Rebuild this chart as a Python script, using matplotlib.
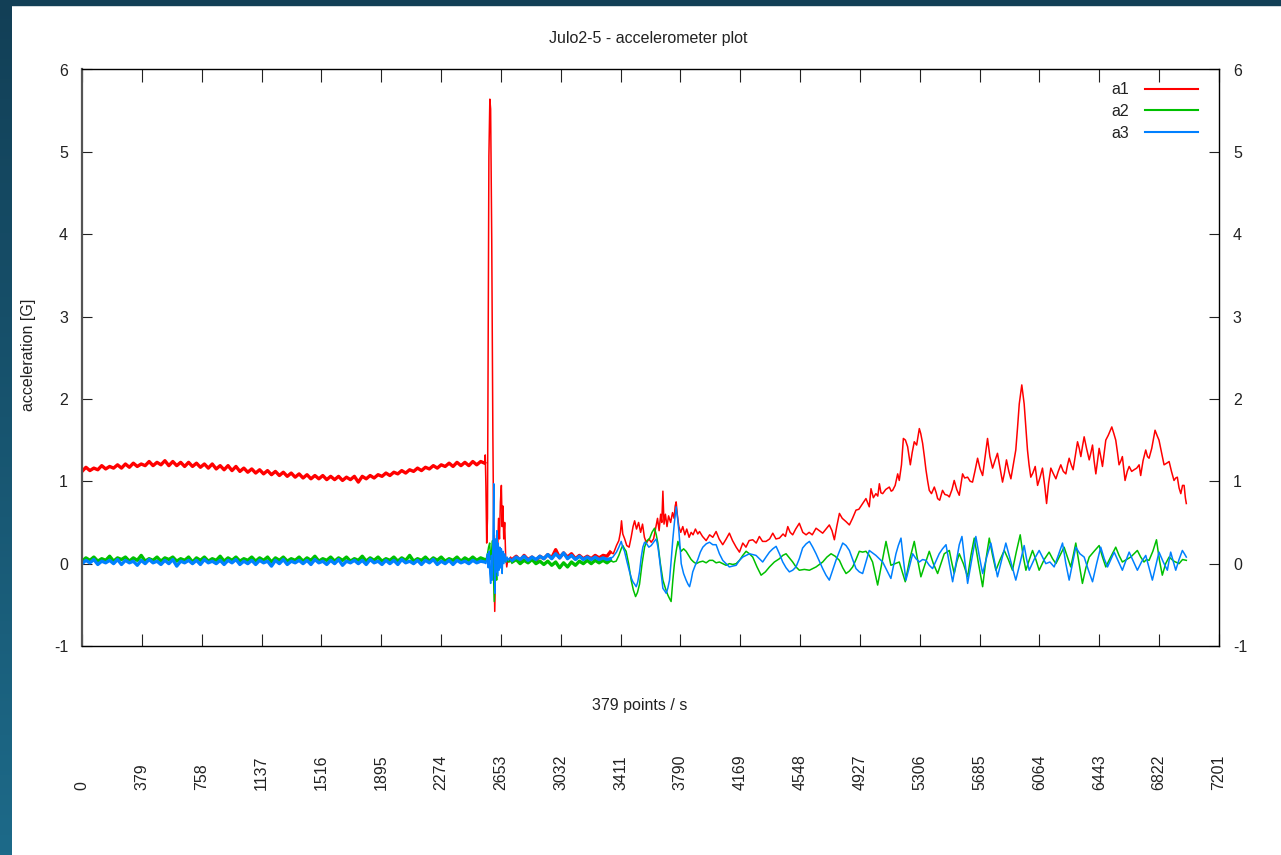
import numpy as np
import matplotlib
matplotlib.use('Agg')
import matplotlib.pyplot as plt
from matplotlib.colors import LinearSegmentedColormap
from matplotlib.patches import Rectangle

plt.rcParams['font.family'] = ['Liberation Sans', 'DejaVu Sans']
plt.rcParams['axes.unicode_minus'] = False
plt.rcParams['text.color'] = '#222222'
plt.rcParams['xtick.color'] = '#222222'
plt.rcParams['ytick.color'] = '#222222'

# --- данные ---
# спокойный участок: отсчёты 0, 25, 50 ... 2525
quiet_step = 25

red_quiet = [
    1.12, 1.17, 1.13, 1.16, 1.14, 1.19, 1.15, 1.18, 1.16, 1.20, 1.16, 1.21,
    1.17, 1.22, 1.18, 1.21, 1.19, 1.24, 1.19, 1.23, 1.20, 1.25, 1.19, 1.24,
    1.19, 1.23, 1.18, 1.23, 1.18, 1.22, 1.17, 1.21, 1.16, 1.21, 1.15, 1.19,
    1.14, 1.19, 1.13, 1.18, 1.12, 1.16, 1.11, 1.15, 1.10, 1.14, 1.09, 1.13,
    1.08, 1.12, 1.07, 1.11, 1.06, 1.10, 1.05, 1.09, 1.04, 1.08, 1.03, 1.07,
    1.03, 1.07, 1.02, 1.06, 1.02, 1.06, 1.01, 1.05, 1.02, 1.06, 0.99, 1.06,
    1.03, 1.07, 1.04, 1.08, 1.06, 1.10, 1.07, 1.11, 1.09, 1.13, 1.10, 1.14,
    1.12, 1.16, 1.13, 1.17, 1.15, 1.19, 1.16, 1.20, 1.18, 1.22, 1.18, 1.23,
    1.19, 1.23, 1.19, 1.24, 1.20, 1.24,
]

green_quiet = [
    0.03, 0.07, 0.04, 0.08, 0.03, 0.06, 0.04, 0.09, 0.03, 0.07,
    0.05, 0.08, 0.03, 0.07, 0.04, 0.10, 0.03, 0.06, 0.04, 0.08,
    0.03, 0.07, 0.05, 0.08, 0.03, 0.06, 0.04, 0.08, 0.02, 0.07,
    0.04, 0.08, 0.03, 0.06, 0.04, 0.09, 0.03, 0.07, 0.04, 0.08,
    0.03, 0.06, 0.04, 0.08, 0.03, 0.07, 0.04, 0.08, 0.02, 0.07,
    0.04, 0.08, 0.03, 0.06, 0.04, 0.08, 0.03, 0.07, 0.04, 0.09,
    0.03, 0.06, 0.04, 0.08, 0.03, 0.07, 0.04, 0.08, 0.03, 0.06,
    0.04, 0.09, 0.03, 0.07, 0.04, 0.08, 0.03, 0.06, 0.04, 0.08,
    0.03, 0.07, 0.04, 0.10, 0.03, 0.06, 0.04, 0.08, 0.03, 0.07,
    0.04, 0.08, 0.03, 0.06, 0.04, 0.08, 0.03, 0.07, 0.04, 0.08,
    0.04, 0.07,
]

blue_quiet = [
    0.00, 0.04, 0.01, 0.05, -0.01, 0.03, 0.01, 0.04, 0.00, 0.05,
    -0.01, 0.04, 0.01, 0.03, -0.02, 0.04, 0.00, 0.05, 0.01, 0.03,
    -0.01, 0.04, 0.00, 0.05, -0.03, 0.03, 0.01, 0.04, 0.00, 0.04,
    -0.01, 0.05, 0.01, 0.03, 0.00, 0.04, -0.01, 0.04, 0.01, 0.05,
    -0.01, 0.03, 0.00, 0.04, -0.01, 0.04, 0.01, 0.03, -0.03, 0.04,
    0.00, 0.05, -0.01, 0.03, 0.01, 0.04, 0.00, 0.04, -0.01, 0.05,
    0.01, 0.03, -0.01, 0.04, 0.00, 0.05, -0.02, 0.03, 0.01, 0.04,
    0.00, 0.04, -0.01, 0.05, 0.01, 0.03, -0.01, 0.04, 0.00, 0.04,
    -0.01, 0.05, 0.01, 0.03, 0.00, 0.04, -0.01, 0.04, 0.01, 0.05,
    -0.01, 0.03, 0.00, 0.04, -0.01, 0.04, 0.01, 0.03, 0.00, 0.04,
    0.01, 0.03,
]

# активный участок: (отсчёт, значение)
red_active = [
    (2550, 1.22), (2554, 1.32), (2558, 0.95), (2563, 0.25), (2568, 0.55), (2572, 2.63),
    (2577, 4.95), (2583, 5.64), (2588, 5.52), (2595, 3.93), (2602, 1.60), (2608, 0.20),
    (2614, -0.58), (2620, 0.05), (2626, 0.35), (2632, 0.15), (2638, 0.55), (2644, 0.30),
    (2650, 0.75), (2656, 0.95), (2661, 0.45), (2666, 0.70), (2671, 0.30), (2677, 0.50),
    (2683, 0.10), (2690, -0.04), (2698, 0.06), (2706, 0.02), (2714, 0.08),
    (2725, 0.05), (2750, 0.09), (2775, 0.04), (2800, 0.10), (2825, 0.05), (2850, 0.08),
    (2875, 0.04), (2900, 0.09), (2925, 0.06), (2950, 0.11), (2975, 0.07), (3000, 0.17),
    (3025, 0.07), (3050, 0.13), (3075, 0.08), (3100, 0.12), (3125, 0.06), (3150, 0.10),
    (3175, 0.06), (3200, 0.09), (3225, 0.06), (3250, 0.10), (3275, 0.07), (3300, 0.10),
    (3325, 0.09), (3345, 0.14), (3365, 0.12), (3385, 0.22), (3400, 0.28), (3410, 0.38),
    (3417, 0.52), (3425, 0.36), (3437, 0.30), (3450, 0.22), (3465, 0.20), (3478, 0.32),
    (3490, 0.45), (3500, 0.52), (3512, 0.42), (3525, 0.50), (3538, 0.38), (3550, 0.48),
    (3562, 0.32), (3575, 0.25), (3590, 0.30), (3605, 0.26), (3620, 0.30), (3632, 0.42),
    (3645, 0.55), (3655, 0.40), (3665, 0.60), (3672, 0.50), (3679, 0.88), (3686, 0.48),
    (3695, 0.60), (3705, 0.45), (3715, 0.58), (3728, 0.50), (3740, 0.62), (3750, 0.55),
    (3757, 0.70), (3763, 0.75), (3770, 0.60), (3780, 0.45), (3792, 0.38), (3805, 0.45),
    (3818, 0.35), (3830, 0.42), (3845, 0.32), (3858, 0.38), (3870, 0.35), (3885, 0.42),
    (3900, 0.36), (3911, 0.39), (3930, 0.33), (3953, 0.28), (3975, 0.35), (3995, 0.32),
    (4016, 0.39), (4035, 0.30), (4058, 0.23), (4080, 0.30), (4100, 0.37), (4120, 0.28),
    (4143, 0.20), (4164, 0.14), (4185, 0.25), (4205, 0.20), (4225, 0.28), (4248, 0.29),
    (4270, 0.25), (4290, 0.33), (4310, 0.27), (4332, 0.27), (4355, 0.30), (4375, 0.37),
    (4395, 0.30), (4417, 0.31), (4440, 0.36), (4455, 0.33), (4470, 0.45), (4485, 0.38),
    (4501, 0.35), (4520, 0.42), (4543, 0.49), (4565, 0.38), (4586, 0.35), (4605, 0.38),
    (4625, 0.35), (4649, 0.43), (4670, 0.40), (4691, 0.37), (4712, 0.42), (4733, 0.47),
    (4750, 0.40), (4765, 0.29), (4780, 0.45), (4797, 0.61), (4815, 0.55), (4839, 0.51),
    (4860, 0.47), (4880, 0.55), (4902, 0.65), (4920, 0.66), (4944, 0.73), (4965, 0.79),
    (4986, 0.69), (4997, 0.91), (5012, 0.80), (5028, 0.85), (5040, 0.82), (5050, 0.97),
    (5060, 0.86), (5071, 0.85), (5090, 0.90), (5113, 0.93), (5125, 0.88), (5134, 0.89),
    (5150, 0.95), (5166, 1.09), (5176, 1.01), (5190, 1.20), (5202, 1.52), (5215, 1.50),
    (5229, 1.42), (5238, 1.30), (5246, 1.20), (5258, 1.35), (5271, 1.48), (5286, 1.44),
    (5295, 1.55), (5303, 1.64), (5312, 1.58), (5324, 1.46), (5335, 1.30), (5345, 1.14),
    (5356, 1.00), (5366, 0.89), (5380, 0.85), (5398, 0.93), (5410, 0.86), (5419, 0.79),
    (5432, 0.77), (5450, 0.89), (5465, 0.84), (5482, 0.83), (5493, 0.81), (5510, 0.90),
    (5524, 1.01), (5540, 0.90), (5556, 0.83), (5577, 1.09), (5590, 1.04), (5609, 1.05),
    (5625, 1.00), (5640, 0.99), (5655, 1.12), (5672, 1.28), (5688, 1.15), (5704, 1.07),
    (5720, 1.30), (5735, 1.52), (5750, 1.30), (5767, 1.16), (5782, 1.25), (5798, 1.34),
    (5815, 1.15), (5830, 0.99), (5842, 1.10), (5855, 1.26), (5870, 1.12), (5883, 1.03),
    (5898, 1.20), (5914, 1.38), (5925, 1.65), (5936, 1.94), (5952, 2.17), (5960, 2.05),
    (5967, 1.94), (5978, 1.65), (5988, 1.38), (5998, 1.20), (6009, 1.05), (6022, 1.10),
    (6037, 1.18), (6052, 0.95), (6068, 1.05), (6083, 1.16), (6097, 0.95), (6109, 0.73),
    (6122, 0.98), (6136, 1.16), (6150, 1.10), (6168, 1.03), (6183, 1.12), (6199, 1.20),
    (6215, 1.12), (6231, 1.09), (6242, 1.20), (6252, 1.28), (6265, 1.20), (6277, 1.14),
    (6290, 1.30), (6305, 1.48), (6316, 1.40), (6326, 1.30), (6336, 1.42), (6347, 1.54),
    (6362, 1.40), (6379, 1.26), (6390, 1.35), (6400, 1.44), (6410, 1.25), (6421, 1.09),
    (6432, 1.25), (6442, 1.40), (6452, 1.30), (6463, 1.18), (6474, 1.35), (6484, 1.50),
    (6500, 1.56), (6522, 1.66), (6535, 1.58), (6547, 1.50), (6558, 1.35), (6568, 1.20),
    (6580, 1.25), (6589, 1.30), (6598, 1.15), (6606, 1.01), (6620, 1.12), (6632, 1.18),
    (6648, 1.12), (6663, 1.14), (6680, 1.16), (6695, 1.20), (6705, 1.07), (6720, 1.25),
    (6737, 1.38), (6748, 1.30), (6758, 1.28), (6775, 1.40), (6796, 1.62), (6810, 1.55),
    (6821, 1.50), (6837, 1.35), (6853, 1.20), (6870, 1.22), (6885, 1.24), (6900, 1.12),
    (6916, 1.01), (6927, 1.04), (6937, 1.05), (6948, 0.92), (6959, 0.85), (6970, 0.95),
    (6980, 0.95), (6988, 0.80), (6994, 0.73),
]

green_active = [
    (2550, 0.05), (2560, 0.06), (2568, 0.12), (2575, 0.20), (2582, 0.25), (2588, 0.05),
    (2594, 0.15), (2600, 0.28), (2606, -0.10), (2611, -0.46), (2616, 0.00), (2621, 0.20),
    (2626, -0.20), (2631, 0.15), (2636, 0.00), (2642, 0.10), (2648, -0.05), (2655, 0.08),
    (2662, 0.00), (2670, 0.06), (2680, 0.02), (2690, 0.05), (2700, 0.02), (2712, 0.04),
    (2725, 0.02), (2750, 0.05), (2775, 0.00), (2800, 0.04), (2825, 0.01), (2850, 0.05),
    (2875, 0.00), (2900, 0.03), (2925, -0.01), (2950, 0.03), (2975, -0.02), (3000, 0.02),
    (3025, -0.05), (3050, 0.01), (3075, -0.04), (3100, 0.02), (3125, -0.02), (3150, 0.03),
    (3175, 0.00), (3200, 0.04), (3225, 0.00), (3250, 0.04), (3275, 0.01), (3300, 0.04),
    (3325, 0.01), (3345, 0.04), (3365, 0.02), (3383, 0.03), (3400, 0.10), (3415, 0.18),
    (3425, 0.22), (3436, 0.18), (3446, 0.15), (3462, 0.00), (3478, -0.20), (3492, -0.32),
    (3506, -0.40), (3518, -0.35), (3531, -0.25), (3547, 0.00), (3563, 0.20), (3578, 0.28),
    (3594, 0.30), (3610, 0.38), (3626, 0.43), (3637, 0.35), (3647, 0.25), (3663, 0.00),
    (3679, -0.20), (3695, -0.30), (3710, -0.38), (3720, -0.42), (3731, -0.46), (3742, -0.20),
    (3752, 0.00), (3763, 0.15), (3774, 0.27), (3785, 0.20), (3795, 0.15), (3810, 0.18),
    (3826, 0.15), (3842, 0.10), (3858, 0.05), (3874, 0.02), (3890, 0.00), (3911, 0.02),
    (3932, 0.03), (3953, 0.01), (3974, 0.04), (3995, 0.04), (4016, 0.01), (4037, 0.02),
    (4058, 0.00), (4079, -0.02), (4100, 0.00), (4122, -0.01), (4143, 0.00), (4164, 0.04),
    (4185, 0.10), (4206, 0.15), (4227, 0.12), (4248, 0.08), (4275, -0.04), (4301, -0.14),
    (4328, -0.10), (4354, -0.04), (4385, 0.02), (4417, 0.06), (4438, 0.10), (4459, 0.12),
    (4480, 0.07), (4501, 0.02), (4522, -0.04), (4543, -0.08), (4575, -0.07), (4607, -0.08),
    (4628, -0.06), (4649, -0.04), (4670, -0.01), (4691, 0.02), (4718, 0.08), (4744, 0.12),
    (4770, 0.09), (4797, 0.04), (4818, -0.05), (4839, -0.12), (4860, -0.09), (4881, -0.04),
    (4902, 0.05), (4923, 0.15), (4944, 0.14), (4965, 0.15), (4986, 0.10), (5007, 0.02),
    (5023, -0.12), (5039, -0.26), (5065, 0.00), (5092, 0.27), (5108, 0.12), (5123, -0.02),
    (5150, 0.00), (5176, 0.02), (5195, -0.10), (5214, -0.22), (5242, 0.05), (5271, 0.27),
    (5292, 0.05), (5313, -0.16), (5340, 0.00), (5366, 0.15), (5392, 0.00), (5419, -0.12),
    (5440, 0.00), (5461, 0.12), (5493, 0.16), (5510, 0.00), (5524, -0.12), (5540, 0.02),
    (5556, 0.12), (5582, 0.00), (5609, -0.16), (5630, 0.10), (5651, 0.31), (5678, 0.00),
    (5704, -0.28), (5725, 0.05), (5746, 0.31), (5767, 0.10), (5788, -0.08), (5815, 0.05),
    (5841, 0.16), (5867, 0.05), (5893, -0.08), (5918, 0.15), (5942, 0.35), (5960, 0.10),
    (5978, -0.08), (6000, 0.05), (6020, 0.16), (6041, 0.05), (6062, -0.08), (6094, 0.05),
    (6125, 0.14), (6147, 0.06), (6168, 0.00), (6194, 0.10), (6220, 0.20), (6241, 0.08),
    (6262, -0.04), (6278, 0.10), (6294, 0.25), (6315, 0.00), (6336, -0.24), (6358, -0.05),
    (6379, 0.08), (6410, 0.15), (6442, 0.22), (6463, 0.08), (6484, -0.04), (6515, 0.08),
    (6547, 0.20), (6568, 0.10), (6589, 0.02), (6615, 0.05), (6642, 0.08), (6663, 0.12),
    (6684, 0.16), (6705, 0.08), (6726, 0.02), (6742, 0.05), (6758, 0.04), (6782, 0.15),
    (6805, 0.29), (6823, 0.05), (6842, -0.14), (6863, 0.00), (6885, 0.08), (6915, 0.03),
    (6948, 0.00), (6970, 0.05), (6994, 0.04),
]

blue_active = [
    (2550, 0.02), (2558, 0.00), (2563, 0.05), (2568, 0.12), (2573, -0.05), (2578, 0.15),
    (2583, -0.12), (2588, -0.24), (2593, 0.10), (2598, -0.20), (2603, 0.30), (2608, 0.97),
    (2612, -0.10), (2616, -0.36), (2620, 0.30), (2624, -0.10), (2628, 0.40), (2632, -0.15),
    (2636, 0.25), (2641, -0.08), (2646, 0.20), (2651, -0.05), (2656, 0.18), (2661, -0.12),
    (2666, 0.15), (2672, 0.00), (2678, 0.12), (2685, 0.02), (2692, 0.08), (2700, 0.04),
    (2708, 0.07), (2716, 0.05),
    (2725, 0.04), (2750, 0.08), (2775, 0.05), (2800, 0.09), (2825, 0.04), (2850, 0.08),
    (2875, 0.05), (2900, 0.09), (2925, 0.06), (2950, 0.11), (2975, 0.06), (3000, 0.12),
    (3025, 0.07), (3050, 0.13), (3075, 0.06), (3100, 0.10), (3125, 0.05), (3150, 0.09),
    (3175, 0.05), (3200, 0.08), (3225, 0.05), (3250, 0.08), (3275, 0.05), (3300, 0.07),
    (3325, 0.05), (3345, 0.06), (3362, 0.08), (3385, 0.14), (3400, 0.20), (3415, 0.27),
    (3425, 0.20), (3436, 0.15), (3452, 0.02), (3468, -0.10), (3480, -0.18), (3489, -0.22),
    (3500, -0.25), (3510, -0.28), (3520, -0.22), (3531, -0.10), (3542, 0.08), (3552, 0.20),
    (3563, 0.26), (3573, 0.25), (3590, 0.20), (3605, 0.22), (3620, 0.26), (3637, 0.30),
    (3648, 0.20), (3658, 0.05), (3668, -0.12), (3679, -0.30), (3690, -0.33), (3700, -0.36),
    (3710, -0.30), (3721, -0.20), (3732, 0.05), (3742, 0.30), (3752, 0.50), (3763, 0.69),
    (3772, 0.55), (3780, 0.40), (3788, 0.20), (3795, 0.00), (3810, -0.12), (3826, -0.20),
    (3838, -0.25), (3848, -0.28), (3858, -0.20), (3868, -0.10), (3884, -0.02), (3900, 0.05),
    (3916, 0.14), (3932, 0.20), (3953, 0.24), (3974, 0.26), (3995, 0.23), (4016, 0.23),
    (4037, 0.12), (4058, 0.04), (4079, 0.00), (4100, -0.04), (4120, -0.03), (4143, -0.02),
    (4164, 0.04), (4185, 0.08), (4206, 0.10), (4227, 0.12), (4248, 0.11), (4269, 0.10),
    (4290, 0.06), (4311, 0.02), (4332, 0.08), (4354, 0.14), (4375, 0.18), (4396, 0.21),
    (4417, 0.12), (4438, 0.02), (4459, -0.05), (4480, -0.10), (4501, -0.08), (4522, -0.04),
    (4543, 0.06), (4564, 0.19), (4586, 0.24), (4607, 0.27), (4628, 0.20), (4649, 0.12),
    (4670, 0.03), (4691, -0.06), (4712, -0.14), (4733, -0.20), (4754, -0.08), (4775, 0.04),
    (4797, 0.15), (4818, 0.25), (4839, 0.22), (4860, 0.16), (4881, 0.05), (4902, -0.06),
    (4923, -0.10), (4944, -0.12), (4965, 0.02), (4986, 0.16), (5007, 0.13), (5028, 0.10),
    (5050, 0.06), (5071, 0.02), (5097, -0.08), (5123, -0.18), (5140, -0.02), (5155, 0.12),
    (5170, 0.22), (5187, 0.31), (5202, 0.05), (5218, -0.20), (5240, -0.04), (5261, 0.12),
    (5282, 0.06), (5303, 0.02), (5324, 0.05), (5345, 0.04), (5366, -0.02), (5387, -0.06),
    (5408, 0.03), (5429, 0.12), (5450, 0.18), (5472, 0.23), (5493, 0.00), (5514, -0.22),
    (5535, 0.00), (5556, 0.23), (5573, 0.33), (5590, 0.05), (5609, -0.24), (5635, 0.05),
    (5661, 0.33), (5682, 0.10), (5704, -0.12), (5730, 0.08), (5756, 0.25), (5777, 0.05),
    (5798, -0.16), (5825, 0.05), (5851, 0.25), (5883, 0.02), (5914, -0.20), (5940, 0.00),
    (5967, 0.22), (5983, 0.05), (5999, -0.08), (6030, 0.05), (6062, 0.16), (6083, 0.08),
    (6104, 0.00), (6130, 0.02), (6157, -0.04), (6183, 0.10), (6210, 0.25), (6231, 0.00),
    (6252, -0.20), (6273, 0.00), (6294, 0.20), (6320, 0.12), (6347, 0.08), (6374, -0.08),
    (6400, -0.22), (6426, 0.00), (6452, 0.20), (6474, 0.06), (6495, -0.04), (6516, 0.05),
    (6537, 0.14), (6563, 0.03), (6589, -0.08), (6610, 0.03), (6632, 0.14), (6658, 0.03),
    (6684, -0.08), (6710, 0.02), (6737, 0.10), (6758, -0.05), (6779, -0.20), (6800, -0.03),
    (6821, 0.14), (6848, 0.02), (6874, -0.08), (6885, 0.04), (6895, 0.14), (6911, 0.03),
    (6927, -0.08), (6948, 0.05), (6969, 0.16), (6982, 0.12), (6994, 0.08),
]

series_names = ['a1', 'a2', 'a3']
series_colors = ['#ff0000', '#00c000', '#0080ff']

x_ticks = np.arange(0, 7202, 379)
y_ticks = [-1, 0, 1, 2, 3, 4, 5, 6]

# участки с плотным шумом датчика (рисуются толще)
noisy_ranges = [(0, 2550), (2720, 3350)]


def build(quiet, active):
    t = list(np.arange(len(quiet)) * quiet_step) + [p[0] for p in active]
    v = list(quiet) + [p[1] for p in active]
    return np.array(t), np.array(v)


W, H = 1281, 855
fig = plt.figure(figsize=(W / 100, H / 100), dpi=100)
fig.patch.set_facecolor('white')

# тёмная рамка скриншота
bx = fig.add_axes([0, 0, 12 / W, 1])
bx.imshow(np.linspace(0, 1, 256)[:, None], aspect='auto',
          cmap=LinearSegmentedColormap.from_list('edge', ['#123f56', '#1d6a89']))
bx.axis('off')
fig.add_artist(Rectangle((0, 1 - 5 / H), 1, 5 / H, transform=fig.transFigure,
                         color='#123f56', zorder=0))

ax = fig.add_axes([82 / W, 209 / H, 1137 / W, 576.5 / H])

for quiet, active, name, col in zip([red_quiet, green_quiet, blue_quiet],
                                    [red_active, green_active, blue_active],
                                    series_names, series_colors):
    t, v = build(quiet, active)
    ax.plot(t, v, color=col, lw=1.1, label=name)
    for lo, hi in noisy_ranges:
        m = (t >= lo) & (t <= hi)
        ax.plot(t[m], v[m], color=col, lw=2.4)

ax.set_xlim(0, 7201)
ax.set_ylim(-1, 6)
ax.set_xticks(x_ticks)
ax.set_yticks(y_ticks)
ax.tick_params(axis='x', direction='in', length=9, top=True, bottom=True,
               labelbottom=False)
ax.tick_params(axis='y', direction='in', length=7, left=True, right=True,
               labelleft=True, labelright=True, labelsize=11.5, pad=10)
for s in ax.spines.values():
    s.set_linewidth(1.0)
ax.spines['left'].set_color('#555555')
ax.spines['left'].set_linewidth(1.6)

# подписи оси X повернуты и выровнены по низу
for xt in x_ticks:
    ax.text(xt, -0.25, str(xt), transform=ax.get_xaxis_transform(),
            rotation=90, ha='center', va='bottom', fontsize=11.5)

fig.text(648 / W, 1 - 38 / H, 'Julo2-5 - accelerometer plot', ha='center',
         va='center', fontsize=11.5)
fig.text(640 / W, 1 - 705 / H, '379 points / s', ha='center', va='center',
         fontsize=11.5)
fig.text(29 / W, 1 - 355 / H, 'acceleration [G]', ha='center', va='center',
         rotation=90, fontsize=11.5)

leg = ax.legend(loc='upper right', frameon=False, markerfirst=False, fontsize=11.5,
                handlelength=3.3, handletextpad=1.0, labelspacing=0.42,
                borderaxespad=0, borderpad=0, bbox_to_anchor=(0.9815, 0.978))
for h in leg.get_lines():
    h.set_linewidth(1.5)

fig.savefig('out.png', dpi=100)
